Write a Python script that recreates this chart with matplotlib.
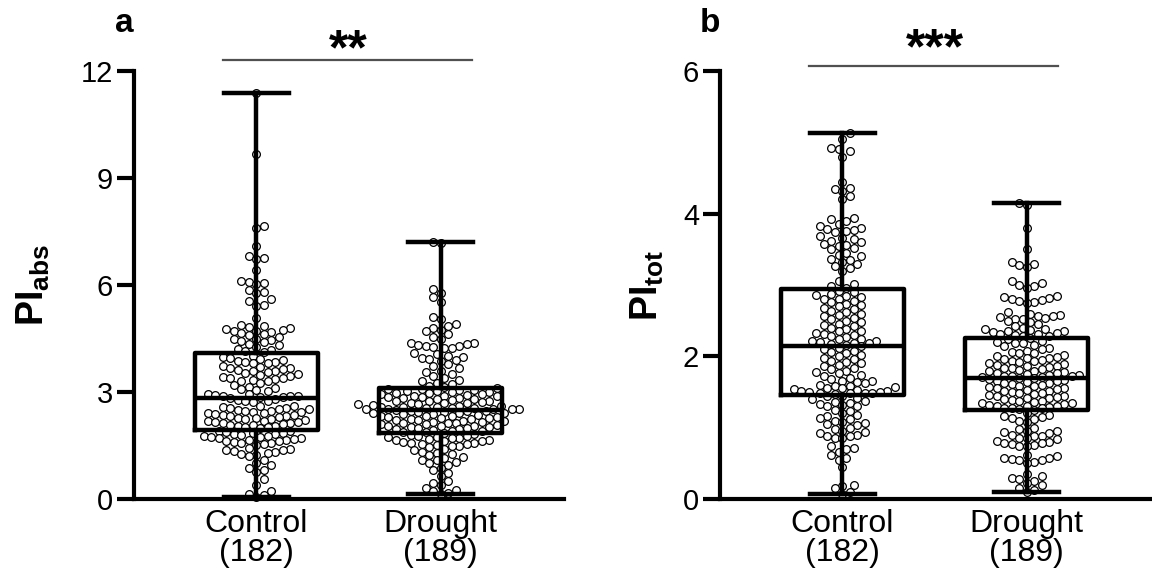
import matplotlib
matplotlib.use("Agg")
import matplotlib.pyplot as plt
import numpy as np

plt.rcParams["font.family"] = ["Liberation Sans", "DejaVu Sans"]
plt.rcParams["mathtext.fontset"] = "custom"
plt.rcParams["mathtext.rm"] = "Liberation Sans"
plt.rcParams["mathtext.bf"] = "Liberation Sans:bold"
plt.rcParams["mathtext.it"] = "Liberation Sans:italic"

groups = ["Control\n(182)", "Drought\n(189)"]

# PI_abs values (panel a)
pi_abs_control = [
    11.38, 9.68, 7.65, 7.6, 7.08, 6.82, 6.76, 6.72, 6.42, 6.1, 6.08, 6.05, 6.02, 5.85, 5.8, 5.78,
    5.62, 5.55, 5.45, 5.42, 5.07,
    4.88, 4.85, 4.82, 4.8, 4.78, 4.75, 4.72, 4.7, 4.68, 4.65, 4.62, 4.6, 4.55, 4.5, 4.48, 4.45,
    4.42, 4.4, 4.35, 4.32, 4.25, 4.2, 4.18, 4.15, 4.12,
    4.02, 3.98, 3.95, 3.92, 3.9, 3.88, 3.85, 3.83, 3.82, 3.8,
    3.72, 3.7, 3.68, 3.66, 3.64, 3.62, 3.6, 3.58, 3.55, 3.52, 3.5, 3.48, 3.45, 3.42, 3.4, 3.38,
    3.36, 3.34, 3.32, 3.3, 3.25, 3.2, 3.15, 3.12, 3.08, 3.05, 3.02,
    2.95, 2.93, 2.92, 2.9, 2.89, 2.88, 2.87, 2.86,
    2.82, 2.8, 2.78, 2.76, 2.74, 2.72,
    2.62, 2.6, 2.58, 2.56, 2.55, 2.53, 2.52, 2.5, 2.48, 2.46, 2.45, 2.43, 2.42, 2.4, 2.38, 2.36,
    2.35, 2.33, 2.32, 2.3, 2.28, 2.26, 2.25, 2.23, 2.22, 2.2, 2.18, 2.16, 2.15, 2.13, 2.12, 2.1,
    2.08, 2.07, 2.05, 2.04, 2.02, 2.01, 2.0,
    1.92, 1.9, 1.88, 1.86, 1.85, 1.83, 1.82, 1.8, 1.78, 1.76, 1.75, 1.73, 1.72, 1.7, 1.68, 1.66,
    1.65, 1.63, 1.62, 1.6, 1.58, 1.56, 1.54, 1.52,
    1.42, 1.4, 1.38, 1.36, 1.34, 1.32, 1.3, 1.27, 1.24, 1.2,
    1.1, 1.02, 0.95, 0.88, 0.82, 0.76, 0.55, 0.38, 0.22, 0.15, 0.1, 0.05,
]
pi_abs_drought = [
    7.2, 7.18, 5.88, 5.78, 5.65, 5.52, 5.1, 5.05, 4.9, 4.85, 4.8, 4.75, 4.7, 4.62, 4.55, 4.5,
    4.38, 4.36, 4.34, 4.32, 4.3, 4.28, 4.26, 4.24, 4.22, 4.1, 4.06, 4.02, 3.98, 3.95, 3.92, 3.9,
    3.86, 3.78, 3.72, 3.66, 3.6, 3.55, 3.5, 3.45, 3.4, 3.35, 3.3, 3.26, 3.22, 3.18, 3.15,
    3.1, 3.09, 3.08, 3.06, 3.05, 3.04, 3.02, 3.0, 2.99, 2.98, 2.96, 2.95, 2.94, 2.92, 2.9, 2.89,
    2.88, 2.86, 2.85, 2.84, 2.82, 2.8, 2.79, 2.78, 2.76, 2.75, 2.74, 2.72, 2.7, 2.69, 2.68, 2.66,
    2.65, 2.64, 2.62, 2.6, 2.59, 2.58, 2.57, 2.56, 2.55, 2.54, 2.53, 2.52, 2.52, 2.51, 2.51,
    2.49, 2.48, 2.47, 2.46, 2.45, 2.44, 2.42, 2.41, 2.4, 2.38, 2.37, 2.36, 2.34, 2.33, 2.32, 2.3,
    2.29, 2.28, 2.26, 2.25, 2.24, 2.22, 2.21, 2.2, 2.18, 2.17, 2.16, 2.14, 2.13, 2.12, 2.1, 2.09,
    2.08, 2.06, 2.05, 2.04, 2.02, 2.01, 2.0, 1.98, 1.97, 1.95, 1.94, 1.92, 1.9, 1.89, 1.87, 1.85,
    1.82, 1.8, 1.78, 1.76, 1.75, 1.73, 1.72, 1.7, 1.68, 1.66, 1.65, 1.63, 1.62, 1.6, 1.58, 1.56,
    1.55, 1.53, 1.52, 1.5, 1.48, 1.46,
    1.4, 1.36, 1.32, 1.3, 1.26, 1.22, 1.18, 1.15, 1.1, 1.08, 1.04, 1.0,
    0.95, 0.88, 0.8, 0.72, 0.65, 0.5, 0.44, 0.38, 0.32, 0.26, 0.22, 0.18, 0.15,
]

# PI_tot values (panel b)
pi_tot_control = [
    5.13, 5.05, 4.92, 4.9, 4.88, 4.8, 4.45, 4.36, 4.34, 4.32, 4.25, 4.2, 3.94, 3.92, 3.9,
    3.85, 3.83, 3.8, 3.79, 3.77, 3.76, 3.75, 3.68, 3.66, 3.64, 3.62, 3.6, 3.58, 3.56, 3.54,
    3.52, 3.5, 3.45, 3.42, 3.4, 3.37, 3.35, 3.32, 3.3, 3.27, 3.24, 3.2, 3.05, 3.02, 2.99, 2.96,
    2.92, 2.9, 2.88, 2.86, 2.85, 2.83, 2.81, 2.8, 2.78, 2.76, 2.74, 2.72, 2.7, 2.68, 2.66, 2.64,
    2.62, 2.6, 2.58, 2.56, 2.54, 2.52, 2.5, 2.48, 2.46, 2.44, 2.42, 2.4, 2.38, 2.36, 2.35, 2.33,
    2.32, 2.3, 2.28, 2.27, 2.25, 2.24, 2.22, 2.21, 2.2, 2.19, 2.18, 2.17, 2.16,
    2.14, 2.12, 2.1, 2.08, 2.06, 2.04, 2.02, 2.0, 1.98, 1.96, 1.94, 1.92, 1.9, 1.88, 1.86, 1.84,
    1.82, 1.8, 1.78, 1.76, 1.74, 1.72, 1.7, 1.68, 1.66, 1.65, 1.64, 1.62, 1.6, 1.59, 1.58, 1.57,
    1.56, 1.55, 1.54, 1.53, 1.52, 1.51, 1.5, 1.5, 1.49, 1.49, 1.48, 1.48, 1.47,
    1.45, 1.44, 1.42, 1.4, 1.38, 1.36, 1.35, 1.33, 1.32, 1.3, 1.3, 1.25, 1.23, 1.2, 1.18, 1.16,
    1.14, 1.12, 1.1, 1.08, 1.06, 1.05, 1.04, 1.0, 0.98, 0.96, 0.94, 0.92, 0.9, 0.89, 0.88, 0.86,
    0.85, 0.75, 0.72, 0.7, 0.66, 0.62, 0.58, 0.55, 0.45, 0.2, 0.18, 0.15, 0.1, 0.07,
]
pi_tot_drought = [
    4.15, 4.12, 3.8, 3.5, 3.32, 3.3, 3.28, 3.25, 3.05, 3.03, 3.0, 2.98, 2.96, 2.85, 2.83, 2.82,
    2.8, 2.79, 2.78, 2.76, 2.75, 2.62, 2.6, 2.58, 2.57, 2.56, 2.55, 2.54, 2.53, 2.52, 2.5, 2.48,
    2.46, 2.42, 2.4, 2.39, 2.38, 2.37, 2.36, 2.35, 2.34, 2.33, 2.32, 2.31, 2.3, 2.29, 2.28,
    2.26, 2.24, 2.22, 2.2, 2.19, 2.18, 2.16, 2.14, 2.12, 2.1, 2.08, 2.06, 2.05, 2.04, 2.02, 2.0,
    1.99, 1.98, 1.97, 1.96, 1.95, 1.94, 1.93, 1.92, 1.9, 1.89, 1.88, 1.87, 1.86, 1.85, 1.84,
    1.83, 1.82, 1.81, 1.8, 1.79, 1.78, 1.77, 1.76, 1.75, 1.74, 1.74, 1.73, 1.72, 1.72, 1.71, 1.71,
    1.7, 1.69, 1.68, 1.67, 1.66, 1.65, 1.64, 1.63, 1.62, 1.61, 1.6, 1.59, 1.58, 1.57, 1.56, 1.55,
    1.54, 1.53, 1.52, 1.51, 1.5, 1.49, 1.48, 1.47, 1.46, 1.45, 1.44, 1.43, 1.42, 1.41, 1.4, 1.39,
    1.38, 1.37, 1.36, 1.35, 1.34, 1.33, 1.32, 1.31, 1.3, 1.3, 1.29, 1.28, 1.28, 1.27, 1.26, 1.25,
    1.2, 1.18, 1.16, 1.15, 1.14, 1.12, 1.1, 1.08, 1.0, 0.98, 0.96, 0.95, 0.94, 0.92, 0.9, 0.89,
    0.88, 0.86, 0.85, 0.84, 0.82, 0.8, 0.79, 0.78, 0.77, 0.76, 0.75, 0.74, 0.62, 0.6, 0.58, 0.57,
    0.56, 0.55, 0.54, 0.52, 0.5, 0.35, 0.32, 0.3, 0.28, 0.25, 0.22, 0.2, 0.16, 0.12, 0.1,
]

panels = [
    dict(letter="a", data=[pi_abs_control, pi_abs_drought], ylim=12, yticks=[0, 3, 6, 9, 12],
         ylabel=r"$\mathbf{PI}_{\mathbf{abs}}$", stars="**", bar_y=12.3, star_y=12.2,
         left=134, labx=-0.19),
    dict(letter="b", data=[pi_tot_control, pi_tot_drought], ylim=6, yticks=[0, 2, 4, 6],
         ylabel=r"$\mathbf{PI}_{\mathbf{tot}}$", stars="***", bar_y=6.07, star_y=6.11,
         left=720, labx=-0.125),
]


def swarm(ax, values, diam):
    # simple greedy beeswarm, works in pixels
    y0, y1 = ax.get_ylim()
    x0, x1 = ax.get_xlim()
    bb = ax.get_window_extent()
    py = bb.height / (y1 - y0)
    px = bb.width / (x1 - x0)
    ys = np.asarray(values) * py
    order = np.argsort(values, kind="stable")
    placed = []
    offs = np.zeros(len(values))
    step = diam / 2
    for n, i in enumerate(order):
        y = ys[i]
        near = [(a, b) for a, b in placed if abs(b - y) < diam]
        k = 0
        while True:
            if k == 0:
                cands = [0.0]
            else:
                cands = [k * step, -k * step] if n % 2 else [-k * step, k * step]
            ok = None
            for c in cands:
                if all((c - a) ** 2 + (y - b) ** 2 >= diam ** 2 for a, b in near):
                    ok = c
                    break
            if ok is not None:
                offs[i] = ok
                placed.append((ok, y))
                break
            k += 1
    return offs / px


fig = plt.figure(figsize=(11.52, 5.76), dpi=100)
W, H = 1152, 576

for p in panels:
    ax = fig.add_axes([p["left"] / W, 77 / H, 430 / W, 428 / H])
    ax.set_xlim(0.335, 2.67)
    ax.set_ylim(0, p["ylim"])

    for pos, vals in zip([1, 2], p["data"]):
        dx = swarm(ax, vals, 7.5)
        ax.scatter(pos + dx, vals, s=31, facecolor="white", edgecolor="black",
                   linewidth=0.9, zorder=2, clip_on=False)

    lw = 3.2
    ax.boxplot(p["data"], positions=[1, 2], whis=(0, 100), widths=0.67, capwidths=0.35,
               showfliers=False, patch_artist=False, manage_ticks=False,
               boxprops=dict(color="black", linewidth=lw),
               whiskerprops=dict(color="black", linewidth=lw),
               capprops=dict(color="black", linewidth=lw),
               medianprops=dict(color="black", linewidth=lw),
               zorder=3)

    ax.set_xlim(0.335, 2.67)
    ax.set_ylim(0, p["ylim"])
    ax.set_yticks(p["yticks"])
    ax.set_xticks([1, 2])
    ax.set_xticklabels(groups, fontsize=23, linespacing=0.95)
    ax.tick_params(axis="y", labelsize=21, length=12, width=3, pad=3)
    ax.tick_params(axis="x", length=0, pad=7)
    for s in ["top", "right"]:
        ax.spines[s].set_visible(False)
    for s in ["left", "bottom"]:
        ax.spines[s].set_linewidth(3)

    ax.set_ylabel(p["ylabel"], fontsize=27)
    ax.yaxis.set_label_coords(p["labx"], 0.5)

    ax.plot([0.82, 2.17], [p["bar_y"], p["bar_y"]], color="#505050", lw=1.6,
            clip_on=False, zorder=4)
    ax.text(1.5, p["star_y"], p["stars"], ha="center", va="baseline", fontsize=36,
            fontweight="bold", clip_on=False)
    fig.text((p["left"] - 10) / W, 1 - 23 / H, p["letter"], ha="center", va="center",
             fontsize=24, fontweight="bold")

fig.savefig("out.png", dpi=100)
